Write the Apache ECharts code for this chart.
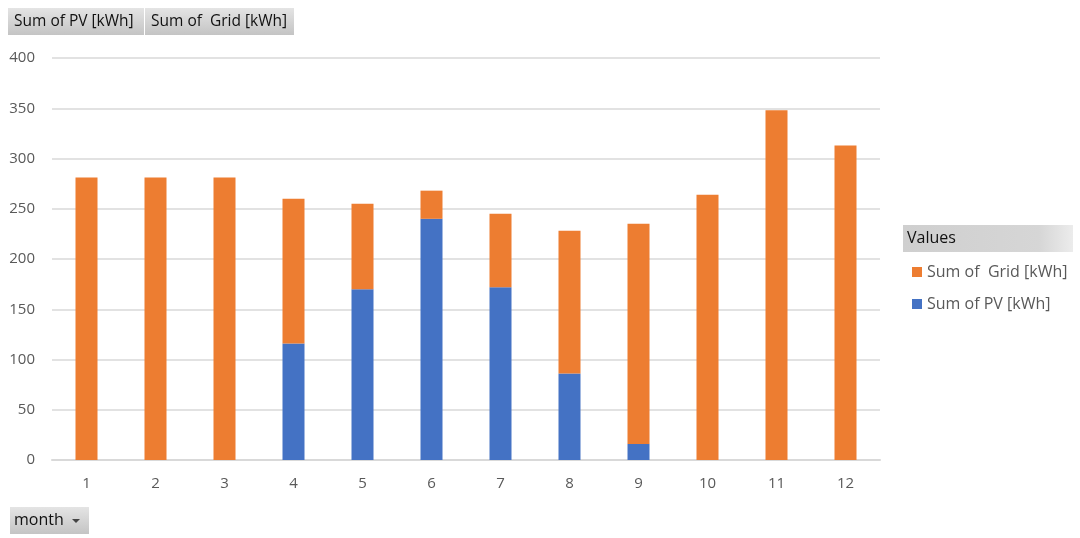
<!DOCTYPE html>
<html><head><meta charset="utf-8">
<script src="https://cdn.jsdelivr.net/npm/echarts@6/dist/echarts.min.js"></script>
<style>html,body{margin:0;padding:0;background:#fff}#c{width:1080px;height:538px}</style>
</head><body><div id="c"></div>
<script>
const months = ['1','2','3','4','5','6','7','8','9','10','11','12'];
const pvValues = [0,0,0,116,170,240,172,86,16,0,0,0];
const gridValues = [281,281,281,144,85,28,73,142,219,264,348,313];
const yTicks = {min:0, max:400, interval:50};
const seriesNames = ['Sum of PV [kWh]','Sum of  Grid [kWh]'];

const FONT = '"Open Sans", "Noto Sans", sans-serif';
const btnFill = {type:'linear',x:0,y:0,x2:0,y2:1,colorStops:[{offset:0,color:'#e4e4e4'},{offset:1,color:'#c4c4c4'}]};
function button(x,y,w,h,text){
  return {type:'group',left:x,top:y,children:[
    {type:'rect',shape:{x:0,y:0,width:w,height:h},style:{fill:btnFill}},
    {type:'text',x:6,y:h/2,style:{text:text,fill:'#111',font:'15.5px '+FONT,verticalAlign:'middle'}}
  ]};
}
const chart = echarts.init(document.getElementById('c'));
chart.setOption({
  animation:false,
  textStyle:{fontFamily:FONT},
  grid:{left:52,right:200,top:58,bottom:78,containLabel:false},
  legend:{
    data:[seriesNames[1],seriesNames[0]],
    orient:'vertical', left:907, top:259, itemWidth:10, itemHeight:10, itemGap:16,
    icon:'rect', textStyle:{color:'#595959',fontSize:16,fontFamily:FONT}, selectedMode:false
  },
  xAxis:{type:'category',data:months,
    axisLine:{lineStyle:{color:'#d9d9d9',width:2}},axisTick:{show:false},
    axisLabel:{color:'#595959',fontSize:15,margin:16}},
  yAxis:{type:'value',min:yTicks.min,max:yTicks.max,interval:yTicks.interval,
    axisLine:{show:false},axisTick:{show:false},
    axisLabel:{color:'#595959',fontSize:15,margin:17},
    splitLine:{lineStyle:{color:'#d9d9d9',width:1.5}}},
  series:[
    {name:seriesNames[0],type:'bar',stack:'t',data:pvValues,barWidth:22,itemStyle:{color:'#4472c4'}},
    {name:seriesNames[1],type:'bar',stack:'t',data:gridValues,barWidth:22,itemStyle:{color:'#ed7d31'}}
  ],
  graphic:[
    button(8,8,136,27,'Sum of PV [kWh]'),
    button(145,8,149,27,'Sum of  Grid [kWh]'),
    {type:'group',left:10,top:507,children:[
      {type:'rect',shape:{x:0,y:0,width:79,height:27},style:{fill:btnFill}},
      {type:'text',x:4,y:13.5,style:{text:'month',fill:'#111',font:'16px '+FONT,verticalAlign:'middle'}},
      {type:'polygon',shape:{points:[[62,12],[70,12],[66,16]]},style:{fill:'#444'}}
    ]},
    {type:'group',left:903,top:225,children:[
      {type:'rect',shape:{x:0,y:0,width:170,height:27},style:{fill:{type:'linear',x:0,y:0,x2:1,y2:0,colorStops:[{offset:0,color:'#cfcfcf'},{offset:0.8,color:'#d6d6d6'},{offset:1,color:'#ececec'}]}}},
      {type:'text',x:4,y:13.5,style:{text:'Values',fill:'#111',font:'16px '+FONT,verticalAlign:'middle'}}
    ]}
  ]
});
</script></body></html>
